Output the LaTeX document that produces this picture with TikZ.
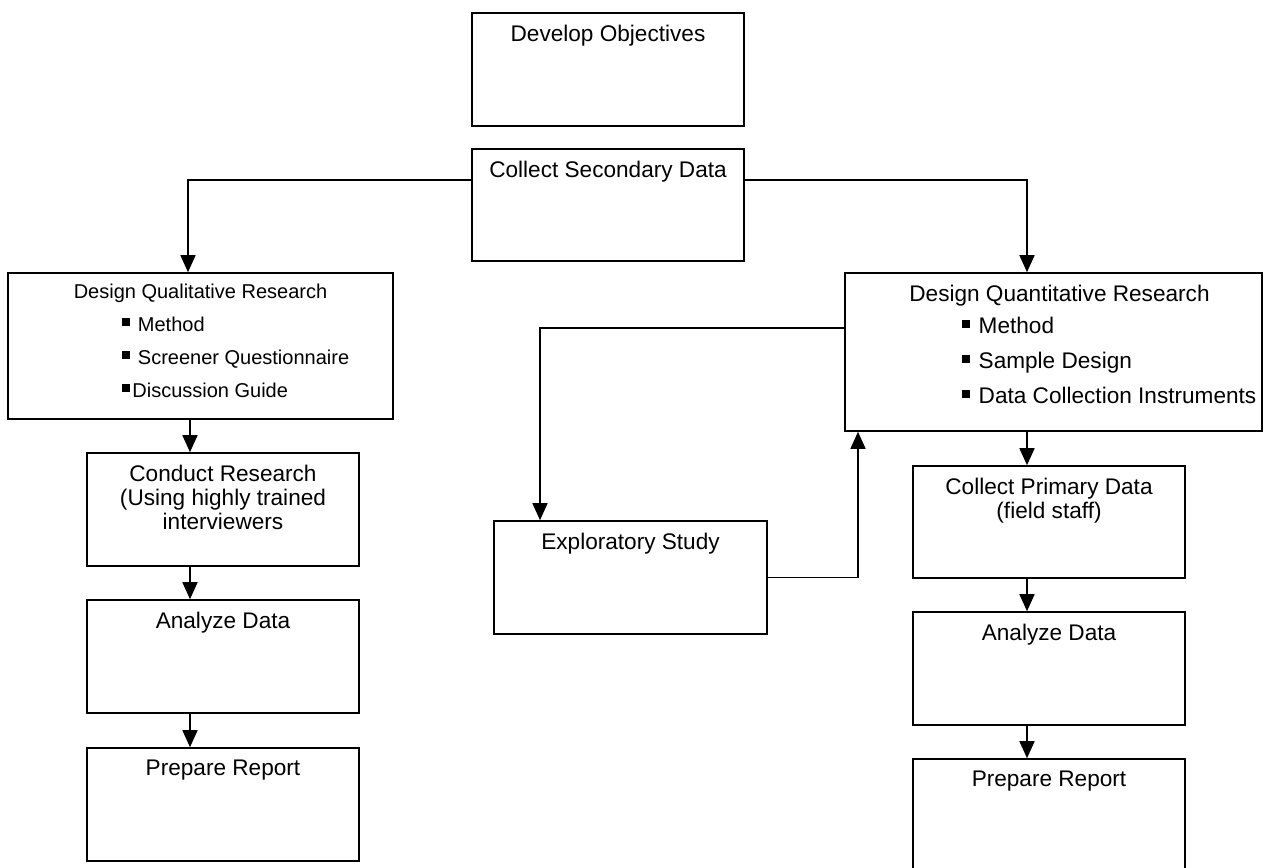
\documentclass[tikz,border=0pt]{standalone}
\usepackage{fontspec}
\setmainfont{Liberation Sans}
\usetikzlibrary{arrows.meta,positioning}
\newcommand{\sqbul}{\rule[6pt]{8pt}{8pt}\hspace{2pt}}

\begin{document}
\begin{tikzpicture}[
        x=1pt, y=-1pt,
        box/.style={rectangle, draw, line width=1.6pt, minimum width=272pt, minimum height=113pt, inner sep=0pt},
        txt/.style={inner sep=0pt, align=center, font=\fontsize{22.6pt}{24pt}\selectfont},
        smalltxt/.style={inner sep=0pt, align=left, font=\fontsize{20pt}{33pt}\selectfont},
        listtxt/.style={inner sep=0pt, align=left, font=\fontsize{22.6pt}{35pt}\selectfont},
        arrow/.style={-{Triangle[width=15pt,length=17pt]}, line width=1.6pt}
    ]
    \useasboundingbox (0,0) rectangle (1265,867);
    \clip (0,0) rectangle (1265,867);

    % top boxes
    \node[box] (devobj) at (608,69.5) {};
    \node[txt, below=13pt of devobj.north] (devobjT) {Develop Objectives};
    \node[box, minimum height=112pt] (collsec) at (608,205) {};
    \node[txt, below=13pt of collsec.north] (collsecT) {Collect Secondary Data};

    % qualitative side
    \node[box, minimum width=385pt, minimum height=146pt] (desqual) at (200.5,346) {};
    \node[smalltxt, below=12pt of desqual.north] (desqualT) {Design Qualitative Research};
    \node[smalltxt, below right=45pt and 115pt of desqual.north west] (desqualL)
        {\sqbul\ Method\\ \sqbul\ Screener Questionnaire\\ \sqbul Discussion Guide};
    \node[box] (condres) at (223,509.5) {};
    \node[txt, below=13pt of condres.north] (condresT) {Conduct Research\\(Using highly trained\\interviewers};
    \node[box] (anaL) at (223,656.5) {};
    \node[txt, below=13pt of anaL.north] (anaLT) {Analyze Data};
    \node[box] (prepL) at (223,804.5) {};
    \node[txt, below=13pt of prepL.north] (prepLT) {Prepare Report};

    % quantitative side
    \node[box, minimum width=417pt, minimum height=158pt] (desquant) at (1053.5,352) {};
    \node[txt, below=13pt of desquant.north, xshift=6pt] (desquantT) {Design Quantitative Research};
    \node[listtxt, below right=45pt and 118pt of desquant.north west] (desquantL)
        {\sqbul\ Method\\ \sqbul\ Sample Design\\ \sqbul\ Data Collection Instruments};
    \node[box, minimum width=273pt] (explor) at (630.5,577.5) {};
    \node[txt, below=13pt of explor.north] (explorT) {Exploratory Study};
    \node[box, minimum height=112pt] (collprim) at (1049,522) {};
    \node[txt, below=13pt of collprim.north] (collprimT) {Collect Primary Data\\(field staff)};
    \node[box] (anaR) at (1049,668.5) {};
    \node[txt, below=13pt of anaR.north] (anaRT) {Analyze Data};
    \node[box] (prepR) at (1049,815.5) {};
    \node[txt, below=13pt of prepR.north] (prepRT) {Prepare Report};

    % connectors
    \draw[arrow] ([yshift=-32pt]collsec.north west) -| ([xshift=-12.5pt]desqual.north);
    \draw[arrow] ([yshift=-32pt]collsec.north east) -| ([xshift=-26.5pt]desquant.north);
    \draw[arrow] ([xshift=-33pt]condres.north |- desqual.south) -- ([xshift=-33pt]condres.north);
    \draw[arrow] ([xshift=-33pt]condres.south) -- ([xshift=-33pt]anaL.north);
    \draw[arrow] ([xshift=-33pt]anaL.south) -- ([xshift=-33pt]prepL.north);
    \draw[arrow] ([yshift=-56pt]desquant.north west) -| ([xshift=-90.5pt]explor.north);
    \draw[arrow] (explor.east) -| ([xshift=-195.5pt]desquant.south);
    \draw[arrow] ([xshift=-22pt]collprim.north |- desquant.south) -- ([xshift=-22pt]collprim.north);
    \draw[arrow] ([xshift=-22pt]collprim.south) -- ([xshift=-22pt]anaR.north);
    \draw[arrow] ([xshift=-22pt]anaR.south) -- ([xshift=-22pt]prepR.north);
\end{tikzpicture}
\end{document}
